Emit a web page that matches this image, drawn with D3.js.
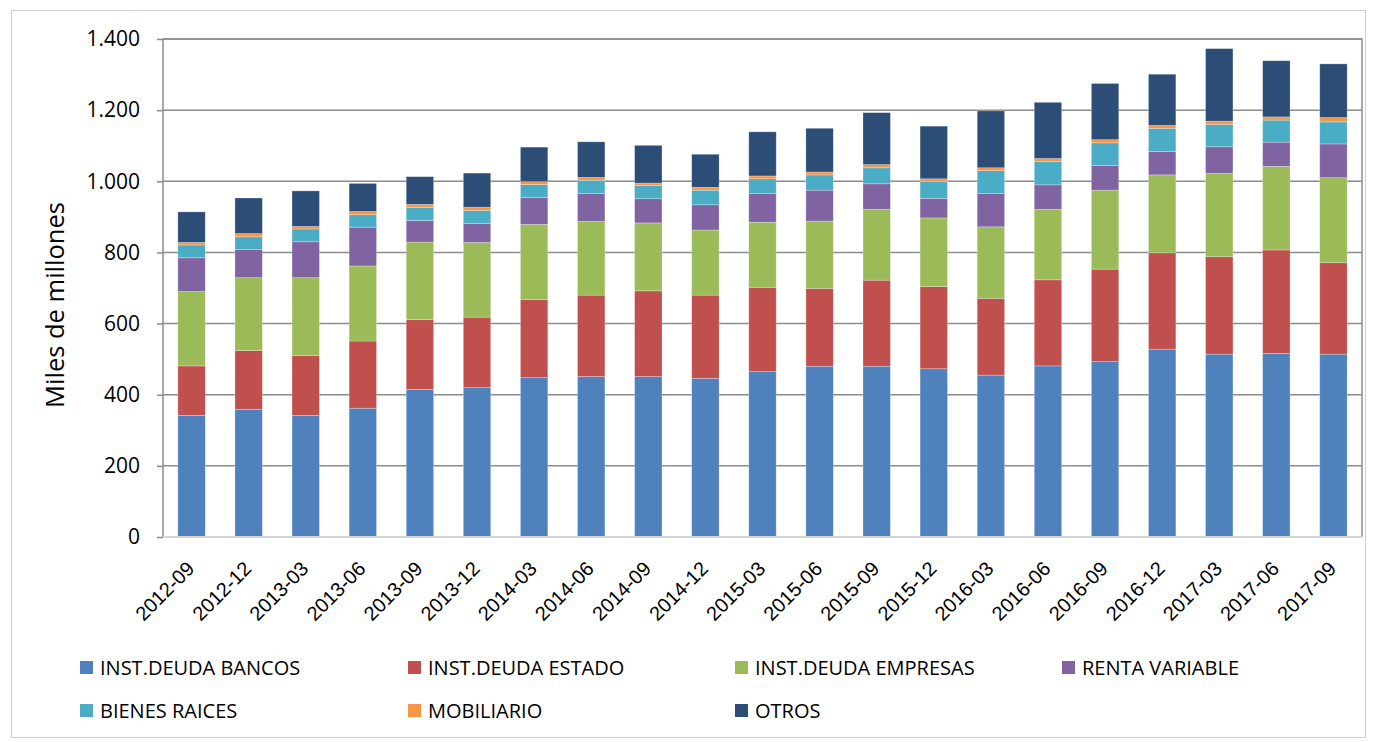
<!DOCTYPE html>
<html lang="es">
<head>
<meta charset="UTF-8">
<title>Cartera</title>
<script src="https://cdn.jsdelivr.net/npm/d3@7"></script>
<style>
  html, body { margin: 0; padding: 0; background: #fff; }
  svg { display: block; font-family: "Open Sans", "Noto Sans", sans-serif; }
</style>
</head>
<body>
<div id="chart"></div>
<script>
const periodos = ["2012-09","2012-12","2013-03","2013-06","2013-09","2013-12","2014-03","2014-06","2014-09","2014-12","2015-03","2015-06","2015-09","2015-12","2016-03","2016-06","2016-09","2016-12","2017-03","2017-06","2017-09"];
const series = ["INST.DEUDA BANCOS","INST.DEUDA ESTADO","INST.DEUDA EMPRESAS","RENTA VARIABLE","BIENES RAICES","MOBILIARIO","OTROS"];
const colores = ["#4f81bd","#c0504d","#9bbb59","#8064a2","#4bacc6","#f79646","#2c4d75"];

const bancos    = [342,359,342,362,415,420,448,451,451,446,465,480,480,473,455,481,493,528,514,516,514];
const estado    = [139,165,168,189,196,198,220,229,241,234,237,219,242,231,216,242,260,271,274,291,257];
const empresas  = [209,205,219,211,218,210,211,207,191,183,183,189,199,193,201,198,222,219,234,235,239];
const renta     = [95,79,101,109,61,53,75,79,68,71,81,87,72,55,94,69,69,66,75,68,95];
const bienes    = [36,36,36,35,36,37,37,37,37,41,41,43,45,47,64,65,64,65,63,62,62];
const mobiliario= [7,9,7,9,9,9,8,8,7,8,8,8,9,8,8,9,9,8,9,9,12];
const otros     = [86,100,100,79,78,96,97,100,106,93,124,123,146,148,160,158,158,144,204,158,151];

const yTicks = [0,200,400,600,800,1000,1200,1400];

const valores = [bancos, estado, empresas, renta, bienes, mobiliario, otros];
const tabla = periodos.map((p, i) => {
  const fila = { periodo: p };
  series.forEach((s, k) => fila[s] = valores[k][i]);
  return fila;
});

const width = 1375, height = 742;
const plot = { left: 163, right: 1362, top: 39, bottom: 537 };

const svg = d3.select("#chart").append("svg")
  .attr("width", width).attr("height", height);

// marco exterior
svg.append("rect")
  .attr("x", 11.5).attr("y", 10.5)
  .attr("width", 1354).attr("height", 727)
  .attr("fill", "none").attr("stroke", "#d0d0d0");

const x = d3.scaleBand().domain(periodos).range([plot.left, plot.right]).paddingInner(0.52).paddingOuter(0.26);
const y = d3.scaleLinear().domain([0, 1400]).range([plot.bottom, plot.top]);

// rejilla
svg.append("g").selectAll("line")
  .data(yTicks.filter(d => d > 0))
  .enter().append("line")
  .attr("x1", plot.left).attr("x2", plot.right)
  .attr("y1", d => y(d)).attr("y2", d => y(d))
  .attr("stroke", "#8c8c8c").attr("stroke-width", 1.5);

// barras apiladas
const apilado = d3.stack().keys(series)(tabla);
svg.append("g").selectAll("g")
  .data(apilado)
  .enter().append("g")
  .attr("fill", (d, i) => colores[i])
  .selectAll("rect")
  .data(d => d)
  .enter().append("rect")
  .attr("x", d => x(d.data.periodo))
  .attr("width", x.bandwidth())
  .attr("y", d => y(d[1]))
  .attr("height", d => y(d[0]) - y(d[1]))
  .attr("stroke", "#ffffff").attr("stroke-opacity", 0.35).attr("stroke-width", 0.75);

// bordes del area
svg.append("path")
  .attr("d", `M${plot.left},${plot.bottom} V${plot.top} H${plot.right} V${plot.bottom}`)
  .attr("fill", "none").attr("stroke", "#8c8c8c").attr("stroke-width", 1.5);
svg.append("line")
  .attr("x1", plot.left).attr("x2", plot.right)
  .attr("y1", plot.bottom).attr("y2", plot.bottom)
  .attr("stroke", "#d4d4d4").attr("stroke-width", 2);

// eje Y
const ejeY = svg.append("g")
  .attr("transform", `translate(${plot.left},0)`)
  .call(d3.axisLeft(y).tickValues(yTicks).tickSize(6).tickPadding(17)
    .tickFormat(d => d3.format(",")(d).replace(/,/g, ".")));
ejeY.select(".domain").remove();
ejeY.selectAll(".tick line").attr("stroke", "#8c8c8c").attr("stroke-width", 1.5);
ejeY.selectAll("text").attr("font-size", 21).attr("fill", "#000")
  .attr("font-family", "'Open Sans', sans-serif");

svg.append("text")
  .attr("transform", "translate(64,305) rotate(-90)")
  .attr("text-anchor", "middle")
  .attr("font-size", 25.5)
  .text("Miles de millones");

// eje X
const ejeX = svg.append("g")
  .attr("transform", `translate(0,${plot.bottom})`)
  .call(d3.axisBottom(x).tickSize(0).tickPadding(0));
ejeX.select(".domain").remove();
ejeX.selectAll("text")
  .attr("font-size", 20).attr("fill", "#000")
  .attr("text-anchor", "end")
  .attr("dy", 0)
  .attr("transform", "translate(4,33) rotate(-45)");

// leyenda
const legX = [80, 408, 735, 1062];
const legY = [668, 711];
const leyenda = svg.append("g").selectAll("g")
  .data(series)
  .enter().append("g")
  .attr("transform", (d, i) => `translate(${legX[i % 4]},${legY[Math.floor(i / 4)]})`);
leyenda.append("rect")
  .attr("x", 0).attr("y", -7).attr("width", 13).attr("height", 13)
  .attr("fill", (d, i) => colores[i]);
leyenda.append("text")
  .attr("x", 20).attr("dy", "0.36em")
  .attr("font-size", 20)
  .text(d => d);
</script>
</body>
</html>
